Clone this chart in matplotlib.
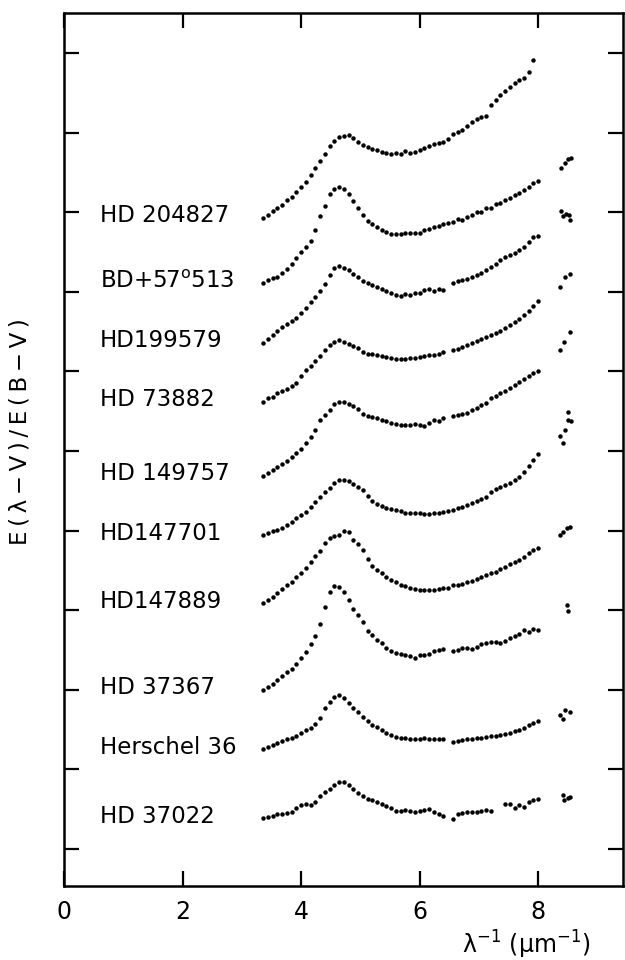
import matplotlib

matplotlib.use("Agg")
import matplotlib.pyplot as plt
import numpy as np

# inverse wavelength grid (um^-1) of the IUE extinction curves
WAVENUMBER = [
    3.36, 3.44, 3.52, 3.60, 3.68, 3.76, 3.84, 3.92, 4.00, 4.08,
    4.16, 4.24, 4.32, 4.40, 4.48, 4.56, 4.64, 4.72, 4.80, 4.88,
    4.96, 5.04, 5.12, 5.20, 5.28, 5.36, 5.44, 5.52, 5.60, 5.68,
    5.76, 5.84, 5.92, 6.00, 6.08, 6.16, 6.24, 6.32, 6.40, 6.48,
    6.56, 6.64, 6.72, 6.80, 6.88, 6.96, 7.04, 7.12, 7.20, 7.28,
    7.36, 7.44, 7.52, 7.60, 7.68, 7.76, 7.84, 7.92, 8.00,
]

# E(lambda-V)/E(B-V), each curve shifted vertically for display
HD_204827 = [
    31.55, 31.7, 31.9, 32.05, 32.2, 32.45, 32.6, 32.85, 33.1, 33.35,
    33.7, 34.05, 34.4, 34.75, 35.13, 35.38, 35.58, 35.65, 35.7, 35.55,
    35.35, 35.2, 35.1, 35.0, 34.95, 34.85, 34.8, 34.75, 34.8, 34.75,
    34.9, 34.8, 34.85, 34.95, 35.05, 35.15, 35.25, 35.3, 35.35, 35.5,
    35.75, 35.85, 35.95, 36.15, 36.35, 36.5, 36.6, 36.65, 37.2, 37.45,
    37.7, 37.9, 38.1, 38.3, 38.45, 38.55, 38.85, 39.45, np.nan,
]
BD_57_513 = [
    28.28, 28.45, 28.53, 28.6, 28.8, 29.0, 29.25, 29.53, 29.85, 30.1,
    30.4, 30.95, 31.65, 32.15, 32.75, 33.0, 33.1, 33.0, 32.75, 32.4,
    32.03, 31.7, 31.4, 31.25, 31.1, 30.95, 30.83, 30.75, 30.73, 30.75,
    30.78, 30.78, 30.78, 30.8, 30.95, 31.0, 31.1, 31.15, 31.23, 31.3,
    31.35, 31.48, 31.45, 31.62, 31.68, 31.85, 31.85, 32.05, 32.05, 32.25,
    32.3, 32.43, 32.55, 32.7, 32.8, 32.95, 33.1, 33.3, 33.4,
]
HD_199579 = [
    25.3, 25.5, 25.7, 25.9, 26.1, 26.25, 26.4, 26.55, 26.8, 27.05,
    27.35, 27.6, 27.9, 28.25, 28.7, 29.05, 29.15, 29.05, 28.95, 28.75,
    28.6, 28.4, 28.3, 28.2, 28.1, 28.0, 27.9, 27.8, 27.7, 27.65,
    27.75, 27.7, 27.8, 27.8, 27.95, 28.0, 27.9, 28.0, 27.95, np.nan,
    28.3, 28.4, 28.45, 28.5, 28.6, 28.7, 28.78, 28.93, 29.08, 29.25,
    29.45, 29.6, 29.7, 29.82, 29.95, 30.1, 30.35, 30.58, 30.65,
]
HD_73882 = [
    22.35, 22.53, 22.6, 22.8, 22.88, 23.0, 23.13, 23.3, 23.65, 23.93,
    24.15, 24.38, 24.65, 24.93, 25.18, 25.34, 25.44, 25.37, 25.25, 25.15,
    25.03, 24.87, 24.75, 24.73, 24.69, 24.63, 24.58, 24.54, 24.5, 24.49,
    24.5, 24.53, 24.56, 24.6, 24.63, 24.68, 24.7, 24.75, 24.83, np.nan,
    24.93, 25.0, 25.1, 25.18, 25.3, 25.4, 25.5, 25.6, 25.7, 25.8,
    25.9, 26.05, 26.18, 26.33, 26.48, 26.68, 26.88, 27.13, 27.39,
]
HD_149757 = [
    18.65, 18.8, 18.93, 19.08, 19.25, 19.4, 19.58, 19.78, 20.0, 20.28,
    20.58, 20.95, 21.45, 21.7, 21.95, 22.25, 22.35, 22.35, 22.25, 22.15,
    22.0, 21.75, 21.65, 21.6, 21.53, 21.45, 21.38, 21.3, 21.23, 21.2,
    21.2, 21.2, 21.23, 21.2, 21.13, 21.3, 21.45, 21.38, 21.53, np.nan,
    21.65, 21.68, 21.75, 21.8, 21.95, 22.05, 22.18, 22.3, 22.55, 22.65,
    22.8, 22.9, 23.05, 23.2, 23.35, 23.5, 23.65, 23.8, 23.9,
]
HD_147701 = [
    15.7, 15.78, 15.88, 15.95, 16.05, 16.18, 16.35, 16.55, 16.7, 16.85,
    17.08, 17.33, 17.6, 17.83, 18.05, 18.3, 18.45, 18.45, 18.4, 18.25,
    18.1, 17.95, 17.65, 17.4, 17.25, 17.13, 17.03, 16.98, 16.93, 16.88,
    16.8, 16.78, 16.8, 16.78, 16.75, 16.75, 16.78, 16.8, 16.85, 16.9,
    16.95, 17.05, 17.1, 17.2, 17.3, 17.4, 17.5, 17.6, 17.85, 18.0,
    18.1, 18.2, 18.3, 18.45, 18.6, 18.85, 19.15, 19.45, 19.75,
]
HD_147889 = [
    12.28, 12.43, 12.58, 12.8, 12.98, 13.18, 13.37, 13.58, 13.78, 14.05,
    14.35, 14.63, 14.9, 15.28, 15.55, 15.65, 15.7, 15.88, 15.85, 15.45,
    15.23, 14.93, 14.5, 14.15, 13.95, 13.78, 13.6, 13.45, 13.33, 13.22,
    13.13, 13.05, 13.0, 12.95, 12.95, 12.95, 12.95, 13.0, 13.03, 13.05,
    13.18, 13.2, 13.25, 13.35, 13.4, 13.5, 13.62, 13.7, 13.8, 13.85,
    14.0, 14.1, 14.23, 14.35, 14.45, 14.58, 14.8, 14.95, 15.03,
]
HD_37367 = [
    7.95, 8.1, 8.25, 8.45, 8.65, 8.83, 9.0, 9.25, 9.55, 9.85,
    10.25, 10.65, 11.23, 12.1, 12.85, 13.15, 13.1, 12.85, 12.45, 12.0,
    11.68, 11.35, 10.9, 10.68, 10.45, 10.28, 10.05, 9.88, 9.8, 9.75,
    9.72, 9.65, 9.57, 9.68, 9.7, 9.75, 9.88, 9.95, 10.0, np.nan,
    9.88, 9.95, 10.03, 10.03, 10.0, 10.1, 10.23, 10.3, 10.37, 10.33,
    10.3, 10.4, 10.55, 10.65, 10.75, 10.95, 10.85, 11.0, 10.95,
]
HERSCHEL_36 = [
    5.0, 5.1, 5.2, 5.3, 5.4, 5.48, 5.56, 5.67, 5.8, 5.93,
    6.05, 6.25, 6.55, 7.05, 7.35, 7.6, 7.7, 7.55, 7.3, 7.03,
    6.85, 6.58, 6.4, 6.2, 6.1, 5.95, 5.8, 5.68, 5.6, 5.55,
    5.54, 5.5, 5.49, 5.5, 5.54, 5.51, 5.49, 5.49, 5.49, np.nan,
    5.35, 5.4, 5.45, 5.48, 5.5, 5.53, 5.55, 5.6, 5.63, 5.65,
    5.7, 5.75, 5.8, 5.9, 5.97, 6.05, 6.2, 6.3, 6.4,
]
HD_37022 = [
    1.53, 1.58, 1.64, 1.73, 1.77, 1.8, 1.87, 2.05, 2.18, 2.23,
    2.2, 2.35, 2.63, 2.83, 3.0, 3.18, 3.35, 3.35, 3.2, 2.98,
    2.8, 2.63, 2.52, 2.43, 2.35, 2.24, 2.15, 2.03, 1.9, 1.88,
    1.93, 1.9, 1.84, 1.88, 1.95, 2.0, 1.83, 1.75, 1.65, np.nan,
    1.48, 1.75, 1.8, 1.83, 1.85, 1.85, 1.9, 1.94, 1.9, np.nan,
    np.nan, 2.23, 2.25, 2.05, 2.18, 2.1, 2.35, 2.45, 2.5,
]

# short-wavelength points beyond Lyman alpha
FAR_UV_X = [
    [],
    [8.38, 8.45, 8.50, 8.56],
    [8.38, 8.41, 8.47, 8.52, 8.53],
    [8.36, 8.45, 8.54],
    [8.36, 8.43, 8.54],
    [8.36, 8.41, 8.46, 8.50, 8.51, 8.56],
    [8.36, 8.41, 8.48, 8.53],
    [8.48, 8.50],
    [8.36, 8.41, 8.46, 8.54],
    [8.41, 8.43, 8.50, 8.53],
]
FAR_UV_Y = [
    [],
    [34.07, 34.3, 34.5, 34.57],
    [31.9, 31.65, 31.75, 31.7, 31.45],
    [28.1, 28.6, 28.75],
    [24.95, 25.37, 25.87],
    [20.65, 20.3, 20.95, 21.85, 21.45, 21.4],
    [15.7, 15.87, 16.03, 16.12],
    [12.2, 11.9],
    [6.7, 6.5, 6.95, 6.87],
    [2.7, 2.45, 2.53, 2.62],
]

STAR_NAMES = [
    "HD 204827",
    "BD+57$^{\\rm o}$513",
    "HD199579",
    "HD 73882",
    "HD 149757",
    "HD147701",
    "HD147889",
    "HD 37367",
    "Herschel 36",
    "HD 37022",
]
CURVES = [
    HD_204827, BD_57_513, HD_199579, HD_73882, HD_149757,
    HD_147701, HD_147889, HD_37367, HERSCHEL_36, HD_37022,
]


def _render(ax):
    x_values = np.array(WAVENUMBER)
    for name, curve, far_x, far_y in zip(STAR_NAMES, CURVES, FAR_UV_X, FAR_UV_Y):
        y_values = np.array(curve, dtype=float)
        ax.plot(x_values, y_values, "o", ms=3.2, color="black", mec="none")
        if far_x:
            ax.plot(far_x, far_y, "o", ms=3.2, color="black", mec="none")
        ax.text(0.61, y_values[0] + 0.1, name, fontsize=16.5, ha="left", va="center")


def main():
    plt.rcParams["font.family"] = "DejaVu Sans"
    plt.rcParams["mathtext.fontset"] = "dejavusans"
    fig = plt.figure(figsize=(6.25, 9.6), dpi=100)
    ax = fig.add_axes([64 / 625, 74 / 960, 559 / 625, 873 / 960])

    _render(ax)

    ax.set_xlim(0, 9.43)
    ax.set_ylim(-1.85, 41.8)
    ax.set_xticks([0, 2, 4, 6, 8])
    ax.set_yticks(np.arange(11) * 3.98)
    ax.tick_params(
        direction="in", length=11, width=1.6, top=True, right=True,
        labelsize=17, pad=10, labelleft=False,
    )
    for spine in ax.spines.values():
        spine.set_linewidth(1.8)

    # the scanned label is letter-spaced
    ax.set_ylabel("\u2009".join("E(λ−V)/E(B−V)"), fontsize=16.5)
    ax.yaxis.set_label_coords(-0.058, 0.52)
    ax.set_xlabel("λ$^{-1}$ (μm$^{-1}$)", fontsize=17, ha="right")
    ax.xaxis.label.set_va("center")
    ax.xaxis.set_label_coords(0.941, -0.0676)

    fig.savefig("out.png", dpi=100)
    plt.close(fig)


main()
